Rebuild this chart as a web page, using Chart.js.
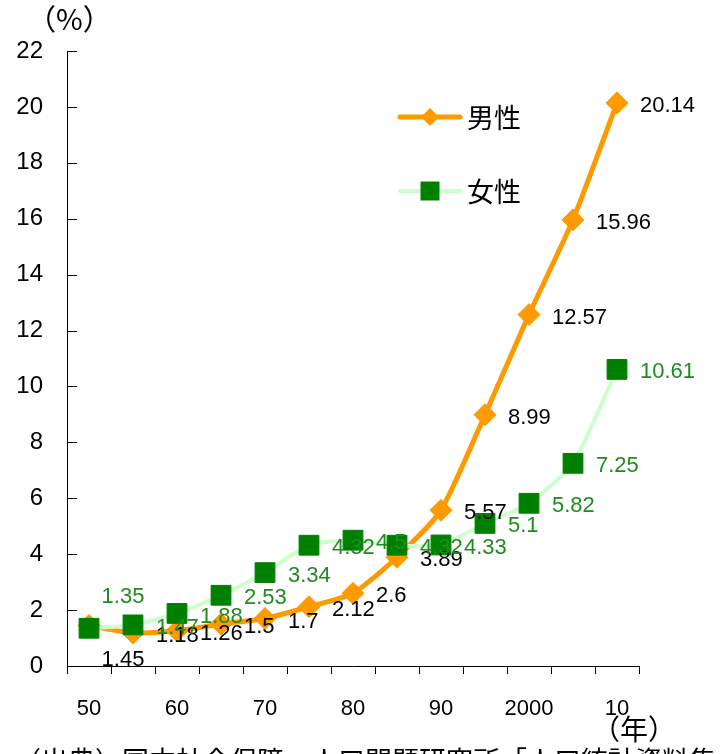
<!DOCTYPE html>
<html>
<head>
<meta charset="utf-8">
<script src="https://cdn.jsdelivr.net/npm/chart.js@4.4.0/dist/chart.umd.min.js"></script>
<style>
  html, body { margin: 0; padding: 0; background: #fff; }
  #wrap { position: relative; width: 726px; height: 754px; overflow: hidden; }
  .note { position: absolute; font-family: "Noto Sans CJK JP", sans-serif; color: #000; white-space: nowrap; line-height: 1; }
</style>
</head>
<body>
<div id="wrap">
  <canvas id="chart" width="726" height="754"></canvas>
  <div class="note" style="left:27px; top:3px; font-size:29px;">（%）</div>
  <div class="note" style="left:592px; top:714px; font-size:28px;">（年）</div>
  <div class="note" style="left:14px; top:746px; font-size:27px;">（出典）国立社会保障・人口問題研究所「人口統計資料集」</div>
</div>
<script>
// years on the x axis, only every other one gets a label
const years = [1950, 1955, 1960, 1965, 1970, 1975, 1980, 1985, 1990, 1995, 2000, 2005, 2010];
const xTickLabels = ['50', '', '60', '', '70', '', '80', '', '90', '', '2000', '', '10'];

// rates in %
const maleRates = [1.45, 1.18, 1.26, 1.5, 1.7, 2.12, 2.6, 3.89, 5.57, 8.99, 12.57, 15.96, 20.14];
const femaleRates = [1.35, 1.47, 1.88, 2.53, 3.34, 4.32, 4.5, 4.32, 4.33, 5.1, 5.82, 7.25, 10.61];

const yMax = 22;
const yStep = 2;

const numFont = '"Liberation Sans", Arial, sans-serif';
const jpFont = '"Noto Sans CJK JP", sans-serif';

// the two 1950 labels were moved by hand in the original
const labelMoves = { '0-0': [34, 34], '1-0': [34, -31] };

const insideTicks = {
  id: 'insideTicks',
  afterDraw(chart) {
    const ctx = chart.ctx;
    const y = chart.scales.y;
    const left = chart.chartArea.left;
    ctx.save();
    ctx.strokeStyle = '#000';
    ctx.lineWidth = 1;
    y.ticks.forEach(t => {
      const py = Math.round(y.getPixelForValue(t.value)) + 0.5;
      ctx.beginPath();
      ctx.moveTo(left, py);
      ctx.lineTo(left + 10, py);
      ctx.stroke();
    });
    ctx.restore();
  }
};

const valueLabels = {
  id: 'valueLabels',
  afterDatasetsDraw(chart) {
    const ctx = chart.ctx;
    ctx.save();
    ctx.font = '22px ' + numFont;
    ctx.textBaseline = 'middle';
    chart.data.datasets.forEach((ds, i) => {
      const meta = chart.getDatasetMeta(i);
      ctx.fillStyle = ds.labelColor;
      meta.data.forEach((pt, j) => {
        const text = String(ds.data[j]);
        const mv = labelMoves[i + '-' + j];
        if (mv) {
          ctx.textAlign = 'center';
          ctx.fillText(text, pt.x + mv[0], pt.y + mv[1]);
        } else {
          ctx.textAlign = 'left';
          ctx.fillText(text, pt.x + 23, pt.y + 3);
        }
      });
    });
    ctx.restore();
  }
};

const legendBox = {
  id: 'legendBox',
  afterDraw(chart) {
    const ctx = chart.ctx;
    const rows = [
      { ds: chart.data.datasets[0], y: 117 },
      { ds: chart.data.datasets[1], y: 191 }
    ];
    ctx.save();
    rows.forEach(r => {
      ctx.strokeStyle = r.ds.borderColor;
      ctx.lineWidth = r.ds.borderWidth;
      ctx.lineCap = 'round';
      ctx.beginPath();
      ctx.moveTo(400, r.y);
      ctx.lineTo(460, r.y);
      ctx.stroke();
      ctx.fillStyle = r.ds.pointBackgroundColor;
      ctx.beginPath();
      if (r.ds.pointStyle === 'rectRot') {
        ctx.moveTo(430, r.y - 9);
        ctx.lineTo(439, r.y);
        ctx.lineTo(430, r.y + 9);
        ctx.lineTo(421, r.y);
      } else {
        ctx.rect(420.5, r.y - 9.5, 19, 19);
      }
      ctx.closePath();
      ctx.fill();
      ctx.fillStyle = '#000';
      ctx.font = '27px ' + jpFont;
      ctx.textAlign = 'left';
      ctx.textBaseline = 'middle';
      ctx.fillText(r.ds.label, 467, r.y + 1);
    });
    ctx.restore();
  }
};

new Chart(document.getElementById('chart'), {
  type: 'line',
  data: {
    labels: years,
    datasets: [
      {
        label: '男性',
        data: maleRates,
        borderColor: '#FF9900',
        backgroundColor: '#FF9900',
        pointBackgroundColor: '#FF9900',
        pointBorderColor: '#FF9900',
        borderWidth: 5,
        pointStyle: 'rectRot',
        pointRadius: 11,
        pointBorderWidth: 1,
        tension: 0.2,
        labelColor: '#000',
        order: 2
      },
      {
        label: '女性',
        data: femaleRates,
        borderColor: '#CCFFCC',
        backgroundColor: '#008000',
        pointBackgroundColor: '#008000',
        pointBorderColor: '#008000',
        borderWidth: 4,
        pointStyle: 'rect',
        pointRadius: 14,
        pointBorderWidth: 1,
        tension: 0.2,
        labelColor: '#1e8c1e',
        order: 1
      }
    ]
  },
  options: {
    responsive: false,
    animation: false,
    events: [],
    layout: { padding: { top: 51, right: 87, left: 0, bottom: 0 } },
    plugins: {
      legend: { display: false },
      tooltip: { enabled: false }
    },
    scales: {
      x: {
        offset: true,
        grid: { display: true, offset: true, drawOnChartArea: false, drawTicks: true, tickLength: 8, color: '#000', lineWidth: 1 },
        border: { display: true, color: '#000', width: 1 },
        ticks: {
          autoSkip: false,
          maxRotation: 0,
          padding: 22,
          color: '#000',
          font: { family: numFont, size: 22 },
          callback: (v, i) => xTickLabels[i]
        },
        afterFit: s => { s.height = 88; }
      },
      y: {
        min: 0,
        max: yMax,
        grid: { display: false, drawTicks: false },
        border: { display: true, color: '#000', width: 1 },
        ticks: {
          stepSize: yStep,
          padding: 24,
          color: '#000',
          font: { family: numFont, size: 24 }
        },
        afterFit: s => { s.width = 67; }
      }
    }
  },
  plugins: [insideTicks, valueLabels, legendBox]
});
</script>
</body>
</html>
